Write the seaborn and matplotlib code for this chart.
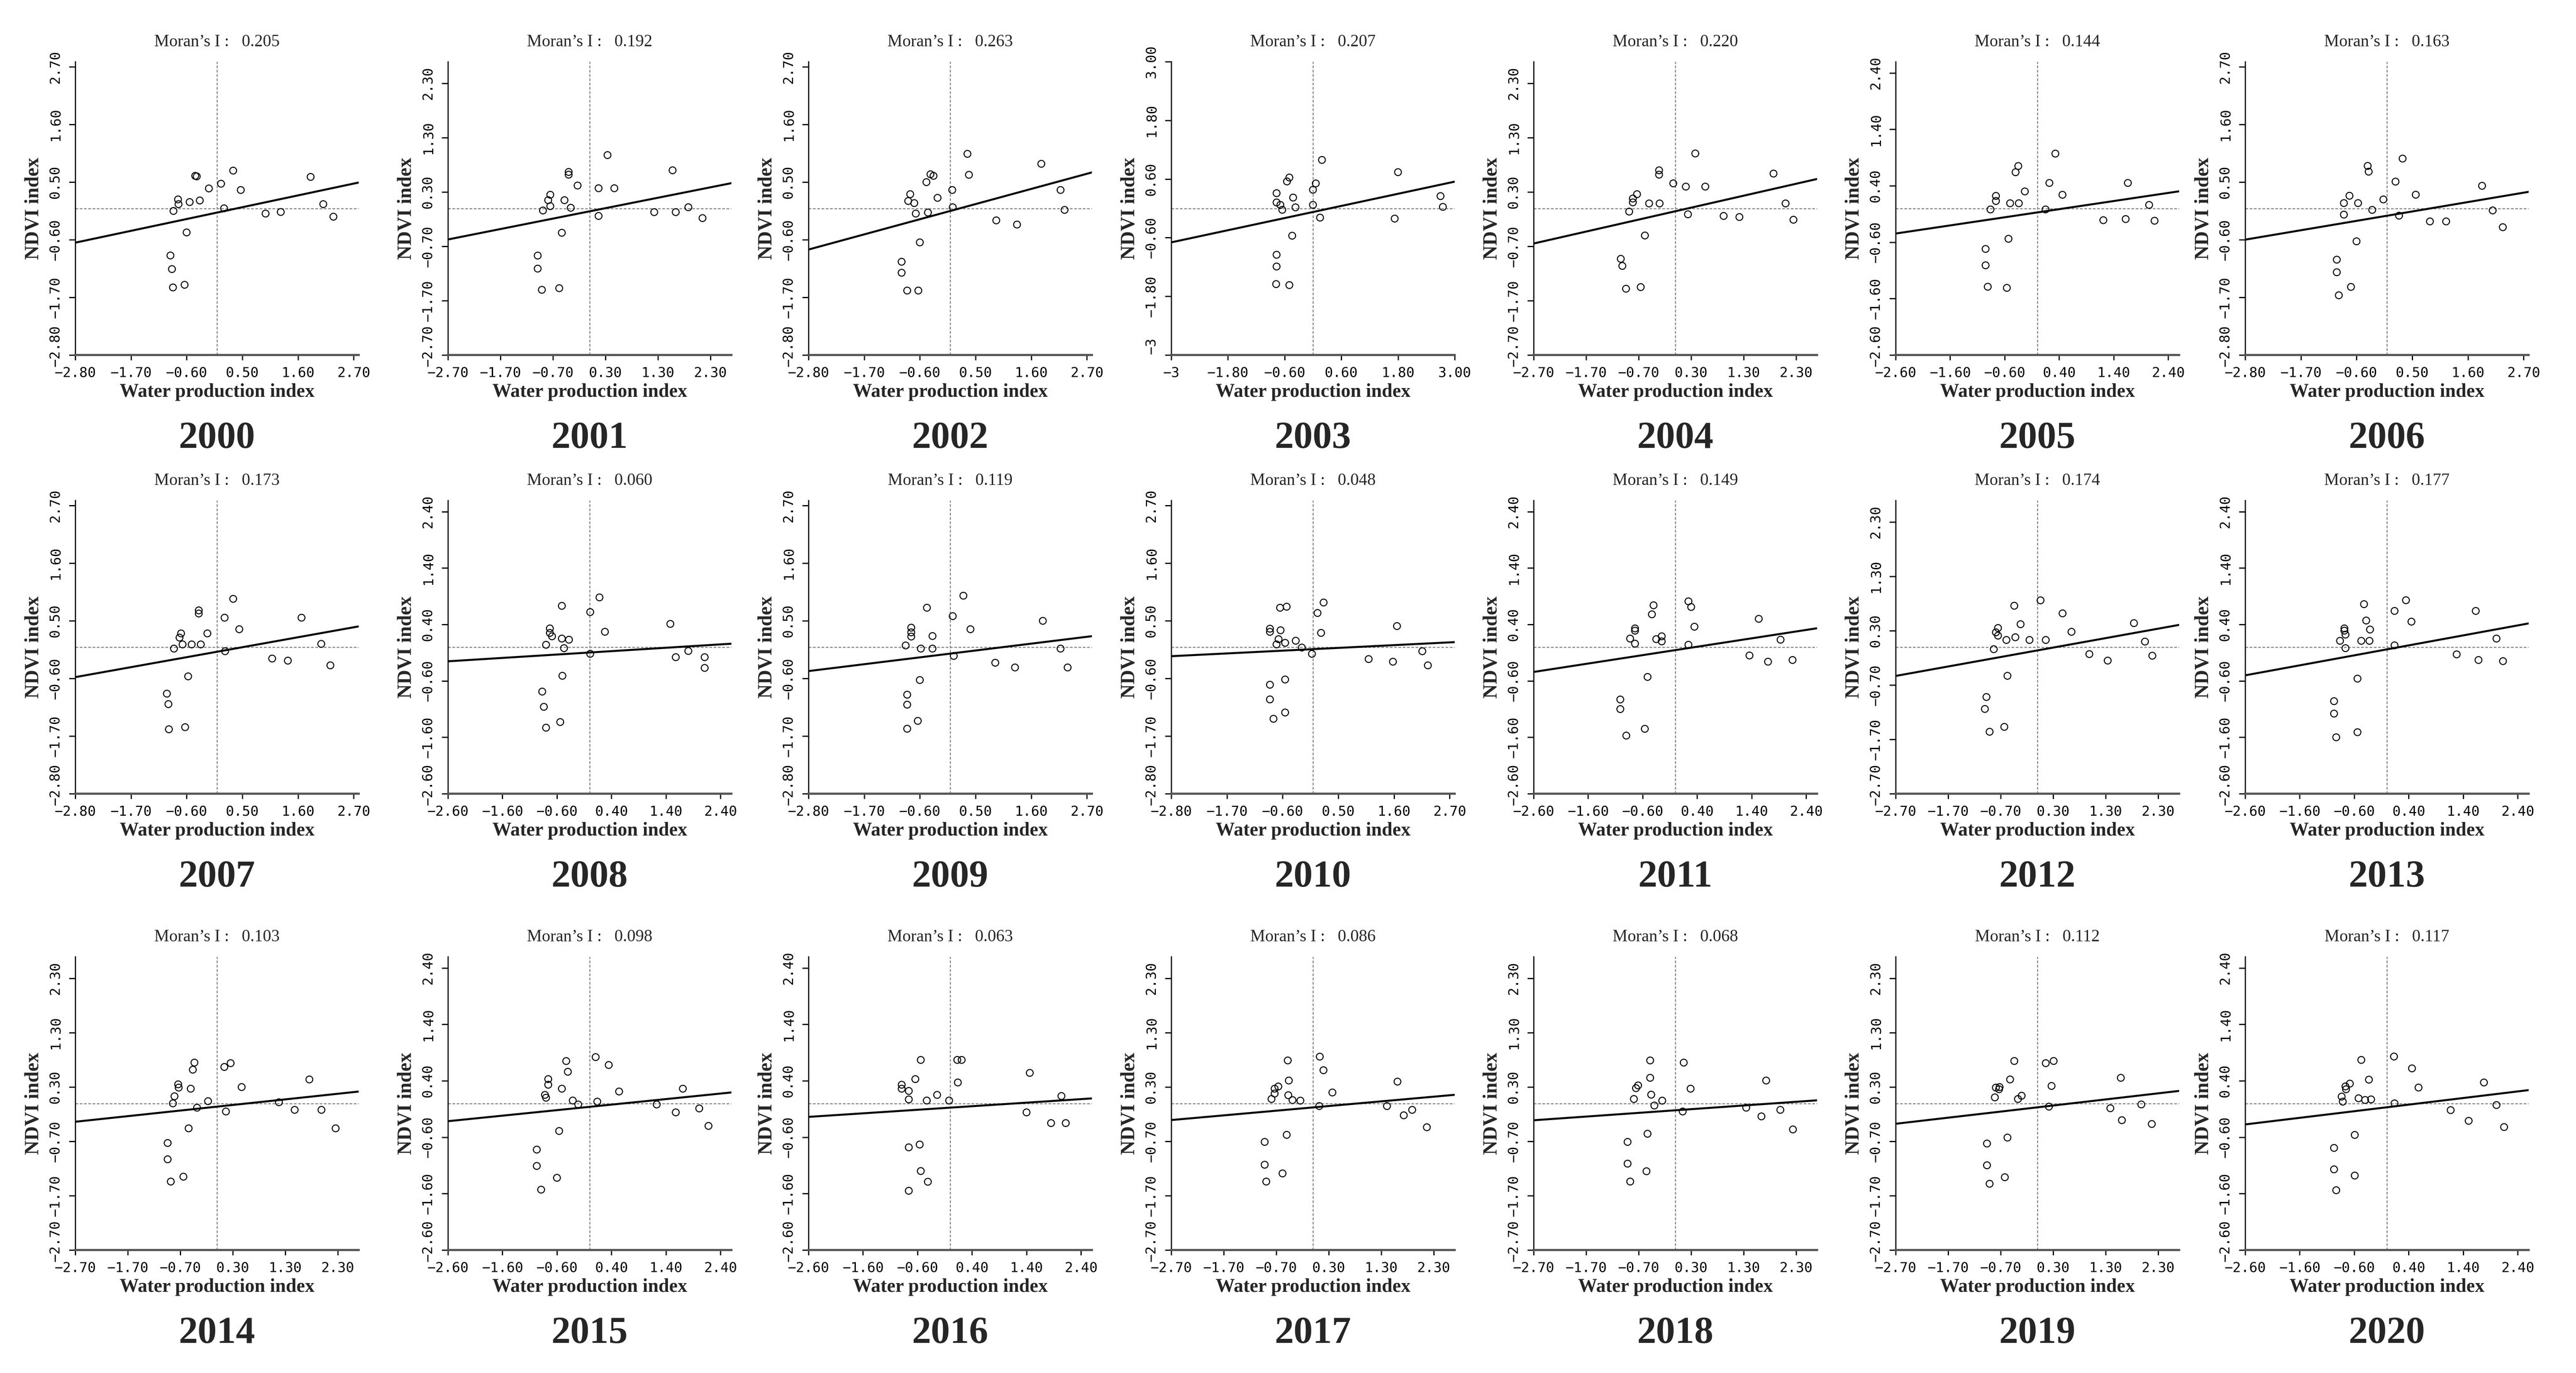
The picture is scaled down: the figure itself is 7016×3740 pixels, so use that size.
#!/usr/bin/env python3
"""
Moran scatter plots of Water production index vs NDVI index, 2000-2020.
"""

import numpy as np
import pandas as pd
import matplotlib
matplotlib.use('Agg')
import matplotlib.pyplot as plt
import matplotlib.transforms as mtransforms
import seaborn as sns

sns.set_style("white")
plt.rcParams['font.family'] = ['Liberation Serif', 'DejaVu Serif']

# ---- data ----
years = list(range(2000, 2021))
moran_i = [0.205, 0.192, 0.263, 0.207, 0.220, 0.144, 0.163,
           0.173, 0.060, 0.119, 0.048, 0.149, 0.174, 0.177,
           0.103, 0.098, 0.063, 0.086, 0.068, 0.112, 0.117]
# symmetric axis half-range and tick step of every panel
axis_limit = [2.8, 2.7, 2.8, 3.0, 2.7, 2.6, 2.8,
              2.8, 2.6, 2.8, 2.8, 2.6, 2.7, 2.6,
              2.7, 2.6, 2.6, 2.7, 2.7, 2.7, 2.6]
tick_step = [1.1, 1.0, 1.1, 1.2, 1.0, 1.0, 1.1,
             1.1, 1.0, 1.1, 1.1, 1.0, 1.0, 1.0,
             1.0, 1.0, 1.0, 1.0, 1.0, 1.0, 1.0]

wpi_2000 = [-0.40, -0.43, 0.32, 0.08, -0.16, 0.47, 1.85, -0.77, -0.76, -0.86, -0.54, -0.34, 0.14, 0.96, 1.26, 2.10, 2.30, -0.60, -0.92, -0.89, -0.87, -0.64]
ndvi_2000 = [0.61, 0.62, 0.72, 0.47, 0.38, 0.35, 0.60, 0.17, 0.08, -0.05, 0.12, 0.15, 0.00, -0.10, -0.07, 0.08, -0.16, -0.46, -0.90, -1.16, -1.51, -1.46]
wpi_2001 = [0.34, 1.58, -0.40, -0.40, -0.23, 0.17, 0.47, -0.75, -0.79, -0.75, -0.89, -0.48, -0.36, 0.17, 1.23, 1.64, 1.88, 2.15, -0.53, -0.99, -0.99, -0.91, -0.58]
ndvi_2001 = [0.98, 0.70, 0.67, 0.62, 0.42, 0.37, 0.37, 0.25, 0.15, 0.04, -0.04, 0.15, 0.01, -0.14, -0.07, -0.07, 0.02, -0.18, -0.45, -0.87, -1.11, -1.50, -1.47]
wpi_2002 = [0.34, 1.80, 0.37, -0.33, -0.39, -0.47, 0.04, -0.79, -0.83, -0.71, -0.25, -0.68, -0.44, 0.05, 2.18, 2.26, 0.91, 1.32, -0.60, -0.96, -0.96, -0.85, -0.63]
ndvi_2002 = [1.04, 0.85, 0.64, 0.62, 0.65, 0.50, 0.35, 0.27, 0.14, 0.10, 0.20, -0.10, -0.08, 0.02, 0.35, -0.03, -0.23, -0.31, -0.65, -1.02, -1.23, -1.57, -1.57]
wpi_2003 = [0.19, 1.80, -0.50, -0.55, 0.06, 0.00, -0.77, -0.42, -0.77, -0.69, -0.65, -0.37, 0.00, 2.70, 2.75, 0.15, 1.73, -0.44, -0.77, -0.77, -0.78, -0.50]
ndvi_2003 = [0.99, 0.74, 0.63, 0.55, 0.51, 0.38, 0.31, 0.22, 0.12, 0.07, -0.03, 0.02, 0.07, 0.25, 0.03, -0.19, -0.21, -0.56, -0.95, -1.19, -1.55, -1.57]
wpi_2004 = [0.38, 1.87, -0.31, -0.31, -0.04, 0.20, 0.57, -0.73, -0.81, -0.81, -0.88, -0.50, -0.30, 0.24, 0.92, 1.22, 2.10, 2.25, -0.58, -1.04, -1.01, -0.94, -0.66]
ndvi_2004 = [1.01, 0.64, 0.70, 0.62, 0.46, 0.40, 0.40, 0.26, 0.18, 0.11, -0.06, 0.09, 0.09, -0.11, -0.14, -0.16, 0.09, -0.21, -0.50, -0.93, -1.06, -1.48, -1.45]
wpi_2005 = [0.33, -0.35, -0.40, 0.22, 1.66, -0.23, 0.46, -0.76, -0.76, -0.86, -0.50, -0.34, 0.15, 2.05, 1.21, 1.62, 2.15, -0.53, -0.95, -0.95, -0.91, -0.56]
ndvi_2005 = [0.97, 0.75, 0.64, 0.45, 0.45, 0.30, 0.24, 0.22, 0.13, -0.02, 0.09, 0.09, -0.02, 0.06, -0.21, -0.19, -0.22, -0.54, -0.72, -1.01, -1.39, -1.41]
wpi_2006 = [0.31, -0.38, -0.36, 0.17, 1.88, 0.57, -0.07, -0.74, -0.85, -0.85, -0.57, -0.29, 0.24, 2.09, 0.85, 1.17, 2.29, -0.60, -0.99, -0.99, -0.71, -0.95]
ndvi_2006 = [0.95, 0.81, 0.70, 0.51, 0.43, 0.26, 0.17, 0.24, 0.10, -0.12, 0.10, -0.03, -0.14, -0.04, -0.25, -0.25, -0.36, -0.63, -0.98, -1.22, -1.50, -1.66]
wpi_2007 = [0.32, -0.36, -0.36, 0.15, 1.67, 0.44, -0.19, -0.71, -0.74, -0.85, -0.68, -0.50, -0.32, 0.16, 2.06, 1.09, 1.40, 2.24, -0.57, -0.99, -0.96, -0.95, -0.63]
ndvi_2007 = [0.92, 0.70, 0.64, 0.56, 0.56, 0.34, 0.26, 0.26, 0.18, -0.03, 0.05, 0.05, 0.05, -0.08, 0.06, -0.22, -0.26, -0.35, -0.56, -0.89, -1.09, -1.57, -1.53]
wpi_2008 = [0.18, -0.51, 0.01, 1.48, 0.28, -0.73, -0.73, -0.69, -0.80, -0.51, -0.38, -0.47, 0.01, 1.81, 1.58, 2.11, 2.11, -0.50, -0.87, -0.84, -0.54, -0.80]
ndvi_2008 = [0.88, 0.73, 0.62, 0.41, 0.27, 0.33, 0.25, 0.19, 0.04, 0.15, 0.13, -0.02, -0.12, -0.07, -0.18, -0.18, -0.37, -0.51, -0.79, -1.06, -1.33, -1.43]
wpi_2009 = [0.26, -0.46, 0.05, 1.83, 0.40, -0.77, -0.77, -0.77, -0.35, -0.88, -0.58, -0.35, 0.07, 2.18, 0.89, 1.28, 2.32, -0.60, -0.85, -0.85, -0.64, -0.85]
ndvi_2009 = [0.98, 0.75, 0.59, 0.50, 0.34, 0.37, 0.28, 0.20, 0.21, 0.03, -0.03, -0.03, -0.17, -0.03, -0.30, -0.39, -0.39, -0.63, -0.91, -1.10, -1.41, -1.56]
wpi_2010 = [0.21, 0.09, -0.65, -0.52, -0.85, -0.85, -0.64, 0.16, 1.66, -0.68, -0.72, -0.55, -0.34, -0.22, -0.02, 1.10, 1.58, 2.16, 2.27, -0.55, -0.85, -0.85, -0.55, -0.78]
ndvi_2010 = [0.85, 0.65, 0.75, 0.77, 0.35, 0.29, 0.32, 0.27, 0.40, 0.15, 0.05, 0.08, 0.12, -0.01, -0.13, -0.23, -0.28, -0.08, -0.35, -0.62, -0.72, -1.00, -1.25, -1.37]
wpi_2011 = [0.24, 0.29, -0.40, -0.43, 0.35, 1.53, -0.74, -0.74, -0.83, -0.74, -0.35, -0.25, -0.25, 0.24, 1.93, 1.36, 1.70, 2.15, -0.51, -1.01, -1.01, -0.56, -0.90]
ndvi_2011 = [0.81, 0.71, 0.74, 0.58, 0.36, 0.50, 0.33, 0.29, 0.15, 0.06, 0.14, 0.19, 0.10, 0.04, 0.13, -0.15, -0.26, -0.23, -0.53, -0.93, -1.10, -1.45, -1.57]
wpi_2012 = [0.06, -0.44, 0.48, -0.32, 1.84, 0.65, -0.75, -0.79, -0.75, -0.83, -0.59, -0.42, -0.15, 0.16, 2.05, 0.99, 1.34, 2.19, -0.57, -0.97, -1.00, -0.63, -0.91]
ndvi_2012 = [0.86, 0.76, 0.62, 0.42, 0.44, 0.28, 0.35, 0.27, 0.21, -0.04, 0.13, 0.18, 0.13, 0.13, 0.10, -0.13, -0.25, -0.16, -0.53, -0.92, -1.14, -1.47, -1.56]
wpi_2013 = [-0.42, 0.35, 0.14, 0.45, 1.63, -0.38, -0.31, -0.78, -0.78, -0.76, -0.86, -0.76, -0.47, -0.32, 0.14, 2.01, 1.28, 1.68, 2.13, -0.54, -0.97, -0.97, -0.54, -0.93]
ndvi_2013 = [0.76, 0.83, 0.64, 0.45, 0.64, 0.47, 0.31, 0.33, 0.29, 0.22, 0.11, -0.02, 0.11, 0.11, 0.03, 0.15, -0.13, -0.23, -0.25, -0.56, -0.96, -1.18, -1.51, -1.60]
wpi_2014 = [-0.43, -0.46, 0.26, 0.14, 1.76, 0.47, -0.74, -0.73, -0.50, -0.81, -0.84, -0.38, -0.17, 1.18, 0.17, 1.48, 1.99, 2.26, -0.54, -0.94, -0.94, -0.88, -0.64]
ndvi_2014 = [0.75, 0.62, 0.74, 0.67, 0.44, 0.30, 0.35, 0.29, 0.27, 0.13, 0.00, -0.08, 0.04, 0.02, -0.15, -0.12, -0.12, -0.46, -0.46, -0.73, -1.03, -1.44, -1.35]
wpi_2015 = [0.11, 0.35, -0.43, -0.40, -0.76, -0.76, -0.51, 0.54, 1.71, -0.82, -0.80, -0.31, -0.21, 0.14, 1.23, 1.58, 2.01, 2.18, -0.56, -0.97, -0.97, -0.60, -0.89]
ndvi_2015 = [0.82, 0.68, 0.75, 0.56, 0.43, 0.33, 0.26, 0.21, 0.26, 0.15, 0.10, 0.05, -0.02, 0.03, -0.02, -0.16, -0.09, -0.40, -0.49, -0.82, -1.11, -1.32, -1.53]
wpi_2016 = [-0.54, 0.13, 0.21, 0.14, 1.46, -0.64, -0.89, -0.89, -0.76, -0.76, -0.24, -0.43, -0.02, 2.04, 1.40, 1.85, 2.12, -0.76, -0.56, -0.54, -0.41, -0.76]
ndvi_2016 = [0.77, 0.77, 0.77, 0.37, 0.54, 0.43, 0.33, 0.26, 0.22, 0.07, 0.15, 0.05, 0.05, 0.13, -0.16, -0.35, -0.35, -0.78, -0.73, -1.20, -1.39, -1.55]
wpi_2017 = [0.13, -0.48, 0.20, -0.46, 1.61, 0.37, -0.66, -0.73, -0.73, -0.79, -0.47, -0.39, -0.24, 0.12, 1.41, 1.73, 1.89, 2.17, -0.50, -0.92, -0.92, -0.58, -0.89]
ndvi_2017 = [0.86, 0.79, 0.61, 0.42, 0.40, 0.20, 0.31, 0.27, 0.18, 0.08, 0.15, 0.06, 0.05, -0.05, -0.05, -0.22, -0.12, -0.44, -0.58, -0.71, -1.13, -1.29, -1.44]
wpi_2018 = [-0.48, 0.16, -0.48, -0.71, -0.75, 0.29, 1.73, -0.46, -0.79, -0.25, -0.40, 0.14, 1.35, 2.00, 1.64, 2.24, -0.53, -0.91, -0.91, -0.55, -0.86]
ndvi_2018 = [0.79, 0.75, 0.47, 0.33, 0.28, 0.27, 0.42, 0.16, 0.08, 0.05, -0.04, -0.15, -0.08, -0.12, -0.24, -0.48, -0.56, -0.71, -1.11, -1.25, -1.44]
wpi_2019 = [-0.44, 0.16, 0.31, -0.52, 1.59, 0.27, -0.79, -0.72, -0.73, -0.81, -0.37, -0.30, 0.22, 1.39, 1.98, 1.61, 2.18, -0.57, -0.96, -0.96, -0.62, -0.91]
ndvi_2019 = [0.78, 0.74, 0.78, 0.44, 0.47, 0.32, 0.29, 0.30, 0.26, 0.11, 0.08, 0.14, -0.06, -0.09, -0.02, -0.31, -0.38, -0.63, -0.74, -1.14, -1.36, -1.48]
wpi_2020 = [-0.47, 0.13, 0.46, -0.33, 1.78, 0.58, -0.68, -0.76, -0.75, -0.83, -0.81, -0.52, -0.40, -0.29, 0.14, 1.17, 2.01, 1.50, 2.15, -0.59, -0.97, -0.97, -0.59, -0.93]
ndvi_2020 = [0.77, 0.83, 0.62, 0.42, 0.37, 0.28, 0.35, 0.30, 0.25, 0.12, 0.03, 0.09, 0.06, 0.07, 0.00, -0.12, -0.03, -0.31, -0.42, -0.56, -0.79, -1.17, -1.28, -1.54]

# long table: one row per point
frames = []
for yr in years:
    frames.append(pd.DataFrame({'year': yr,
                                'wpi': globals()[f'wpi_{yr}'],
                                'ndvi': globals()[f'ndvi_{yr}']}))
points = pd.concat(frames, ignore_index=True)

# ---- layout (pixels of the 7016 x 3740 canvas) ----
W, H = 7016, 3740
col_left = [205, 1220, 2202, 3190, 4177, 5163, 6115]
row_top = [168, 1363, 2606]
ax_w, ax_h = 772, 799

fig = plt.figure(figsize=(W / 300, H / 300), dpi=300)
fig.patch.set_facecolor('white')


def fmt(v, first):
    if first and abs(round(v) - v) < 1e-9:
        return f"{v:.0f}".replace('-', '\u2212')
    return f"{v:.2f}".replace('-', '\u2212')


for i, yr in enumerate(years):
    r, c = divmod(i, 7)
    ax = fig.add_axes([col_left[c] / W, 1 - (row_top[r] + ax_h) / H, ax_w / W, ax_h / H])
    d = points[points['year'] == yr]
    lim = axis_limit[i]
    step = tick_step[i]
    slope = moran_i[i]

    ax.set_xlim(-lim, lim)
    ax.set_ylim(-lim, lim)

    # mean reference lines
    ax.axhline(0, color='#8a8a8a', lw=0.7, ls=(0, (2.5, 1.5)), zorder=1)
    ax.axvline(0, color='#8a8a8a', lw=0.7, ls=(0, (2.5, 1.5)), zorder=1)

    # Moran's I regression line (slope = I)
    intercept = d['ndvi'].mean() - slope * d['wpi'].mean()
    ax.axline((0, intercept), slope=slope, color='black', lw=1.3, zorder=2)

    sns.scatterplot(data=d, x='wpi', y='ndvi', ax=ax, marker='o', s=20,
                    facecolors='none', edgecolor='black', linewidth=0.65,
                    zorder=3, legend=False)

    ax.tick_params(axis='x', direction='out', length=3.4, width=0.8, pad=4.5,
                   bottom=True, colors='black')
    ax.tick_params(axis='y', direction='out', length=4, width=0.8, pad=4.5,
                   left=True, colors='black')
    ticks = [-lim + k * step for k in range(6)]
    labels = [fmt(t, k == 0) for k, t in enumerate(ticks)]
    ax.set_xticks(ticks)
    ax.set_xticklabels(labels)
    ax.set_yticks(ticks)
    ax.set_yticklabels(labels, rotation=90, va='center')
    for lbl in ax.get_xticklabels() + ax.get_yticklabels():
        lbl.set_fontfamily('DejaVu Sans Mono')
        lbl.set_fontsize(9)
    # the lowest y label sits a little above the corner, clear of the x labels
    low = ax.get_yticklabels()[0]
    low.set_transform(low.get_transform() +
                      mtransforms.ScaledTranslation(0, 6 / 72, fig.dpi_scale_trans))

    sns.despine(ax=ax)
    ax.spines['left'].set_linewidth(0.8)
    ax.spines['left'].set_color('#111111')
    ax.spines['bottom'].set_linewidth(1.4)
    ax.spines['bottom'].set_color('#555555')

    ax.set_xlabel('Water production index', fontsize=12.5, fontweight='bold', labelpad=2)
    ax.set_ylabel('NDVI index', fontsize=13, fontweight='bold', labelpad=4)
    ax.set_title(f"Moran\u2019s I :   {slope:.3f}", fontsize=11, pad=10)
    ax.text(0.5, -0.285, str(yr), transform=ax.transAxes, ha='center', va='center',
            fontsize=25, fontweight='bold')

fig.savefig('out.png', dpi=300, facecolor='white')
plt.close(fig)
